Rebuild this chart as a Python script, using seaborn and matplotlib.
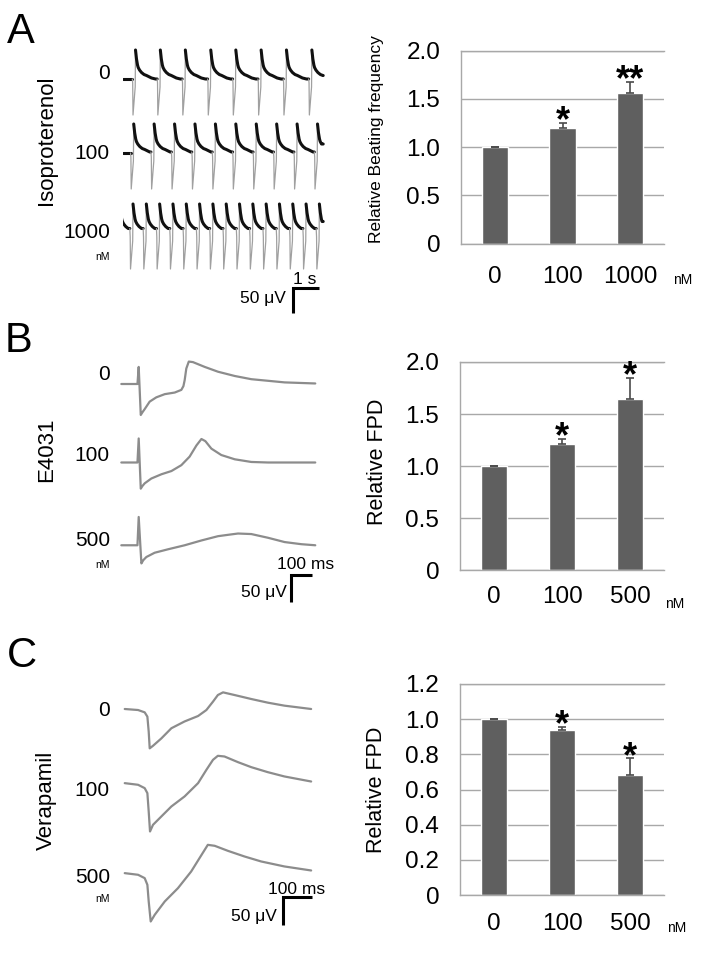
import numpy as np
import seaborn as sns
import matplotlib.pyplot as plt

sns.set_style('white')
plt.rcParams['font.family'] = ['Liberation Sans', 'DejaVu Sans']
plt.rcParams['text.color'] = 'black'
plt.rcParams['axes.labelcolor'] = 'black'
plt.rcParams['xtick.labelcolor'] = 'black'
plt.rcParams['ytick.labelcolor'] = 'black'

W, H = 702, 974
fig = plt.figure(figsize=(W / 100, H / 100), dpi=100)

# ---- bar chart data (relative values) ----
iso_doses = ['0', '100', '1000']
iso_freq = [1.0, 1.20, 1.56]
iso_err = [0.004, 0.05, 0.12]
iso_sig = ['', '*', '**']
iso_yticks = [0, 0.5, 1.0, 1.5, 2.0]

e4031_doses = ['0', '100', '500']
e4031_fpd = [1.0, 1.21, 1.645]
e4031_err = [0.004, 0.055, 0.20]
e4031_sig = ['', '*', '*']
e4031_yticks = [0, 0.5, 1.0, 1.5, 2.0]

vera_doses = ['0', '100', '500']
vera_fpd = [1.0, 0.936, 0.682]
vera_err = [0.003, 0.02, 0.095]
vera_sig = ['', '*', '*']
vera_yticks = [0, 0.2, 0.4, 0.6, 0.8, 1.0, 1.2]

# ---- field potential traces (ms, uV) ----
# A: one beat, spike part and repolarisation part, plus beat times per dose
spike_t = [-123, -108, -96, -12, 0]
spike_v = [0, -8, -72, -16, 58]
slow_t = [0, 38, 77, 104, 154, 231, 327, 424, 616, 770]
slow_v = [58, 40, 28, 23, 18, 13, 9, 7, 2, 0]
iso_beats_0 = [481, 1436, 2398, 3376, 4339, 5313, 6287, 7264]
iso_beats_100 = [412, 1197, 1983, 2768, 3554, 4339, 5125, 5910, 6696, 7481]
iso_beats_1000 = [-127, 385, 897, 1409, 1921, 2433, 2945, 3457, 3969, 4481,
                  4993, 5505, 6017, 6529, 7041, 7553]
iso_end = 7700

# B: E4031
e_t0 = [-84, -6, 0, 10, 18, 29, 53, 85, 126, 174, 206, 216, 222, 230, 242, 262,
        319, 383, 464, 544, 625, 705, 853]
e_v0 = [0, 0, 32, -58, -53, -47, -33, -25, -19, -16, -11, -4, 7, 29, 42, 41,
        32, 23, 15, 9, 6, 3, 1]
e_t100 = [-84, -6, 0, 10, 18, 29, 61, 110, 158, 206, 246, 279, 303, 322, 351,
          399, 464, 544, 625, 853]
e_v100 = [0, 0, 45, -49, -44, -39, -30, -22, -16, -5, 11, 32, 44, 40, 26, 14,
          6, 1, 0, 0]
e_t500 = [-84, -6, 0, 13, 22, 37, 77, 142, 222, 303, 383, 440, 480, 544, 625,
          705, 786, 853]
e_v500 = [0, 0, 53, -34, -28, -22, -14, -7.5, 0, 9, 17, 20, 22, 21, 14, 6, 2, 0]

# C: verapamil
v_t0 = [-83.5, -37, -14, -4.6, 0, 3.5, 15, 44, 79, 125, 172, 201, 224, 241,
        259, 299, 357, 415, 473, 566]
v_v0 = [0, -1.8, -5.9, -13.5, -40, -69.5, -65, -52, -34, -22, -12.4, -1.8, 13,
        24.7, 29.4, 24.7, 17.7, 11.2, 5.9, 0]
v_t100 = [-83.5, -37, -14, -4.6, 0, 4.6, 15, 44, 79, 125, 172, 201, 224, 241,
          264, 311, 357, 415, 473, 566]
v_v100 = [0, -2.9, -8.8, -17.7, -50, -85.4, -73.6, -58.9, -41.2, -23.5, 0,
          23.5, 41.2, 48.3, 47.1, 37.1, 28.3, 19.4, 11.8, 2.9]
v_t500 = [-83.5, -37, -14, -4.6, 0, 7, 21, 56, 102, 148, 177, 206, 230, 276,
          334, 392, 473, 566]
v_v500 = [0, -2.9, -8.8, -20.6, -50, -85.4, -73.6, -50, -26.5, 2.9, 26.5, 50,
          48.3, 39.4, 29.4, 20.6, 11.8, 4.7]

BAR = '#5f5f5f'
GRID = '#a8a8a8'
ERR = '#4a4a4a'
TRACE = '#8c8c8c'


def px_axes(x0, y0, x1, y1):
    return fig.add_axes([x0 / W, 1 - y1 / H, (x1 - x0) / W, (y1 - y0) / H])


def ftext(x, y, s, **kw):
    fig.text(x / W, 1 - y / H, s, **kw)


def bar_panel(rect, doses, vals, errs, sig, yticks, ylabel, lab_xy, xpad, nm_off):
    ax = px_axes(*rect)
    sns.barplot(x=doses, y=vals, order=doses, ax=ax, color=BAR, saturation=1,
                width=0.39, errorbar=None)
    ax.errorbar(range(len(doses)), vals, yerr=[[0] * len(errs), errs], fmt='none',
                ecolor=ERR, elinewidth=1.2, capsize=3, capthick=1.2)
    for i, s in enumerate(sig):
        if s:
            ax.annotate(s, (i, vals[i] + errs[i]), xytext=(0, -6),
                        textcoords='offset points', ha='center', va='baseline',
                        fontsize=26, fontweight='bold')
    ax.set_xlim(-0.5, len(doses) - 0.5)
    ax.set_ylim(yticks[0], yticks[-1])
    ax.set_yticks(yticks)
    ax.set_yticklabels(['0' if t == 0 else f'{t:.1f}' for t in yticks])
    ax.yaxis.grid(True, color=GRID, lw=1)
    ax.set_axisbelow(True)
    for side in ['left', 'bottom', 'top']:
        ax.spines[side].set_color(GRID)
        ax.spines[side].set_linewidth(1)
    ax.spines['right'].set_visible(False)
    ax.tick_params(axis='y', length=0, pad=15, labelsize=17.5)
    ax.tick_params(axis='x', which='major', length=0, pad=xpad, labelsize=17.5)
    ax.set_xticks([k - 0.5 for k in range(len(doses) + 1)], minor=True)
    ax.tick_params(axis='x', which='minor', length=4, width=1, color=GRID,
                   direction='out')
    ax.set_xlabel('')
    ax.set_ylabel(ylabel, fontsize=lab_xy[2])
    ax.yaxis.set_label_coords(lab_xy[0], lab_xy[1])
    ax.yaxis.label.set_verticalalignment('center')
    ax.annotate('nM', (1, 0), xycoords='axes fraction', xytext=nm_off,
                textcoords='offset points', ha='left', va='baseline', fontsize=10)
    return ax


def trace_axes(rect, origin, ms_px, uv_px):
    x0, y0, x1, y1 = rect
    ax = px_axes(*rect)
    ax.axis('off')
    return ax


def set_trace_limits(ax, rect, origin, ms_px, uv_px, left=None):
    x0, y0, x1, y1 = rect
    ax.set_xlim((x0 - origin[0]) * ms_px if left is None else left,
                (x1 - origin[0]) * ms_px)
    ax.set_ylim((origin[1] - y1) * uv_px, (origin[1] - y0) * uv_px)


def scale_bar(ax, corner, dx, dy, xlab, ylab, xoff, yoff):
    cx, cy = corner
    ax.plot([cx + dx, cx, cx], [cy, cy, cy - dy], color='black', lw=2.2,
            solid_joinstyle='miter', solid_capstyle='butt', clip_on=False)
    ax.annotate(xlab, (cx + dx / 2, cy), xytext=xoff, textcoords='offset points',
                ha='center', va='bottom', fontsize=12.5)
    ax.annotate(ylab, (cx, cy - dy / 2), xytext=yoff, textcoords='offset points',
                ha='right', va='center', fontsize=12.5)


def beat_row(ax, beats, t_end, off):
    level = 0.0
    first = beats[0] + spike_t[0]
    if first > 0:
        sns.lineplot(x=[0, first], y=[off, off], ax=ax, color='#111111', lw=2.2)
    for i, b in enumerate(beats):
        stop = beats[i + 1] + spike_t[0] if i + 1 < len(beats) else t_end
        st = [b + t for t in spike_t]
        sv = [level] + spike_v[1:]
        sns.lineplot(x=st, y=np.array(sv) + off, ax=ax, color='#a0a0a0', lw=0.9,
                     estimator=None, sort=False)
        keep = [(b + t, v) for t, v in zip(slow_t, slow_v) if b + t < stop]
        ts = [k[0] for k in keep] + [stop]
        vs = [k[1] for k in keep] + [keep[-1][1]]
        sns.lineplot(x=ts, y=np.array(vs) + off, ax=ax, color='#111111', lw=2.2,
                     estimator=None, sort=False)
        level = vs[-1]


# ---------------- Panel A ----------------
rectA, origA, msA, uvA = (123, 35, 335, 320), (123, 79), 1000 / 26, 2.0
axA = trace_axes(rectA, origA, msA, uvA)
for beats, off in zip([iso_beats_0, iso_beats_100, iso_beats_1000], [0, -148, -308]):
    beat_row(axA, beats, iso_end, off)
set_trace_limits(axA, rectA, origA, msA, uvA, left=0)
scale_bar(axA, (6538, -418), 1000, 50, '1 s', '50 μV', (-0.7, 0.5), (-5, 1.8))

bar_panel((461, 50.7, 664, 243.7), iso_doses, iso_freq, iso_err, iso_sig,
          iso_yticks, 'Relative Beating frequency', (-0.414, 0.541, 12.5), 15.8,
          (6.5, -28.8))

# ---------------- Panel B ----------------
rectB, origB, msB, uvB = (110, 350, 340, 610), (138.7, 384), 100 / 20.7, 50 / 26.7
axB = trace_axes(rectB, origB, msB, uvB)
for t, v, off in zip([e_t0, e_t100, e_t500], [e_v0, e_v100, e_v500], [0, -147, -302]):
    sns.lineplot(x=t, y=np.array(v) + off, ax=axB, color=TRACE, lw=1.6,
                 estimator=None, sort=False)
set_trace_limits(axB, rectB, origB, msB, uvB)
scale_bar(axB, (735.6, -357.7), 100, 50, '100 ms', '50 μV', (3, 2.5), (-2.9, -3))

bar_panel((460, 362, 664, 570.3), e4031_doses, e4031_fpd, e4031_err, e4031_sig,
          e4031_yticks, 'Relative FPD', (-0.404, 0.522, 15.5), 11.2, (0.7, -27.1))

# ---------------- Panel C ----------------
rectC, origC, msC, uvC = (110, 680, 340, 930), (148.7, 709), 100 / 28.7, 50 / 28.3
axC = trace_axes(rectC, origC, msC, uvC)
for t, v, off in zip([v_t0, v_t100, v_t500], [v_v0, v_v100, v_v500], [0, -131, -290]):
    sns.lineplot(x=t, y=np.array(v) + off, ax=axC, color=TRACE, lw=1.6,
                 estimator=None, sort=False)
set_trace_limits(axC, rectC, origC, msC, uvC)
scale_bar(axC, (467.9, -331.7), 100, 50, '100 ms', '50 μV', (-0.6, 0), (-4.3, -4.2))

bar_panel((460, 684, 664, 895), vera_doses, vera_fpd, vera_err, vera_sig,
          vera_yticks, 'Relative FPD', (-0.407, 0.498, 15.5), 12.6, (2, -26.4))

# ---------------- labels ----------------
for x, y, s in [(7, 43, 'A'), (5, 352, 'B'), (7, 667, 'C')]:
    ftext(x, y, s, fontsize=30, va='baseline', ha='left')

row_labels = [
    (['0', '100', '1000'], [79, 159, 238], 260),
    (['0', '100', '500'], [380, 460.7, 546], 567.5),
    (['0', '100', '500'], [716, 796, 883], 902.5),
]
for labels, ys, nm_y in row_labels:
    for s, y in zip(labels, ys):
        ftext(110, y, s, fontsize=15, ha='right', va='baseline')
    ftext(110, nm_y, 'nM', fontsize=7.5, ha='right', va='baseline')

for y, s in [(140.3, 'Isoproterenol'), (450, 'E4031'), (800, 'Verapamil')]:
    ftext(46.5, y, s, fontsize=16, rotation=90, ha='center', va='center')

plt.savefig('out.png', dpi=100)
